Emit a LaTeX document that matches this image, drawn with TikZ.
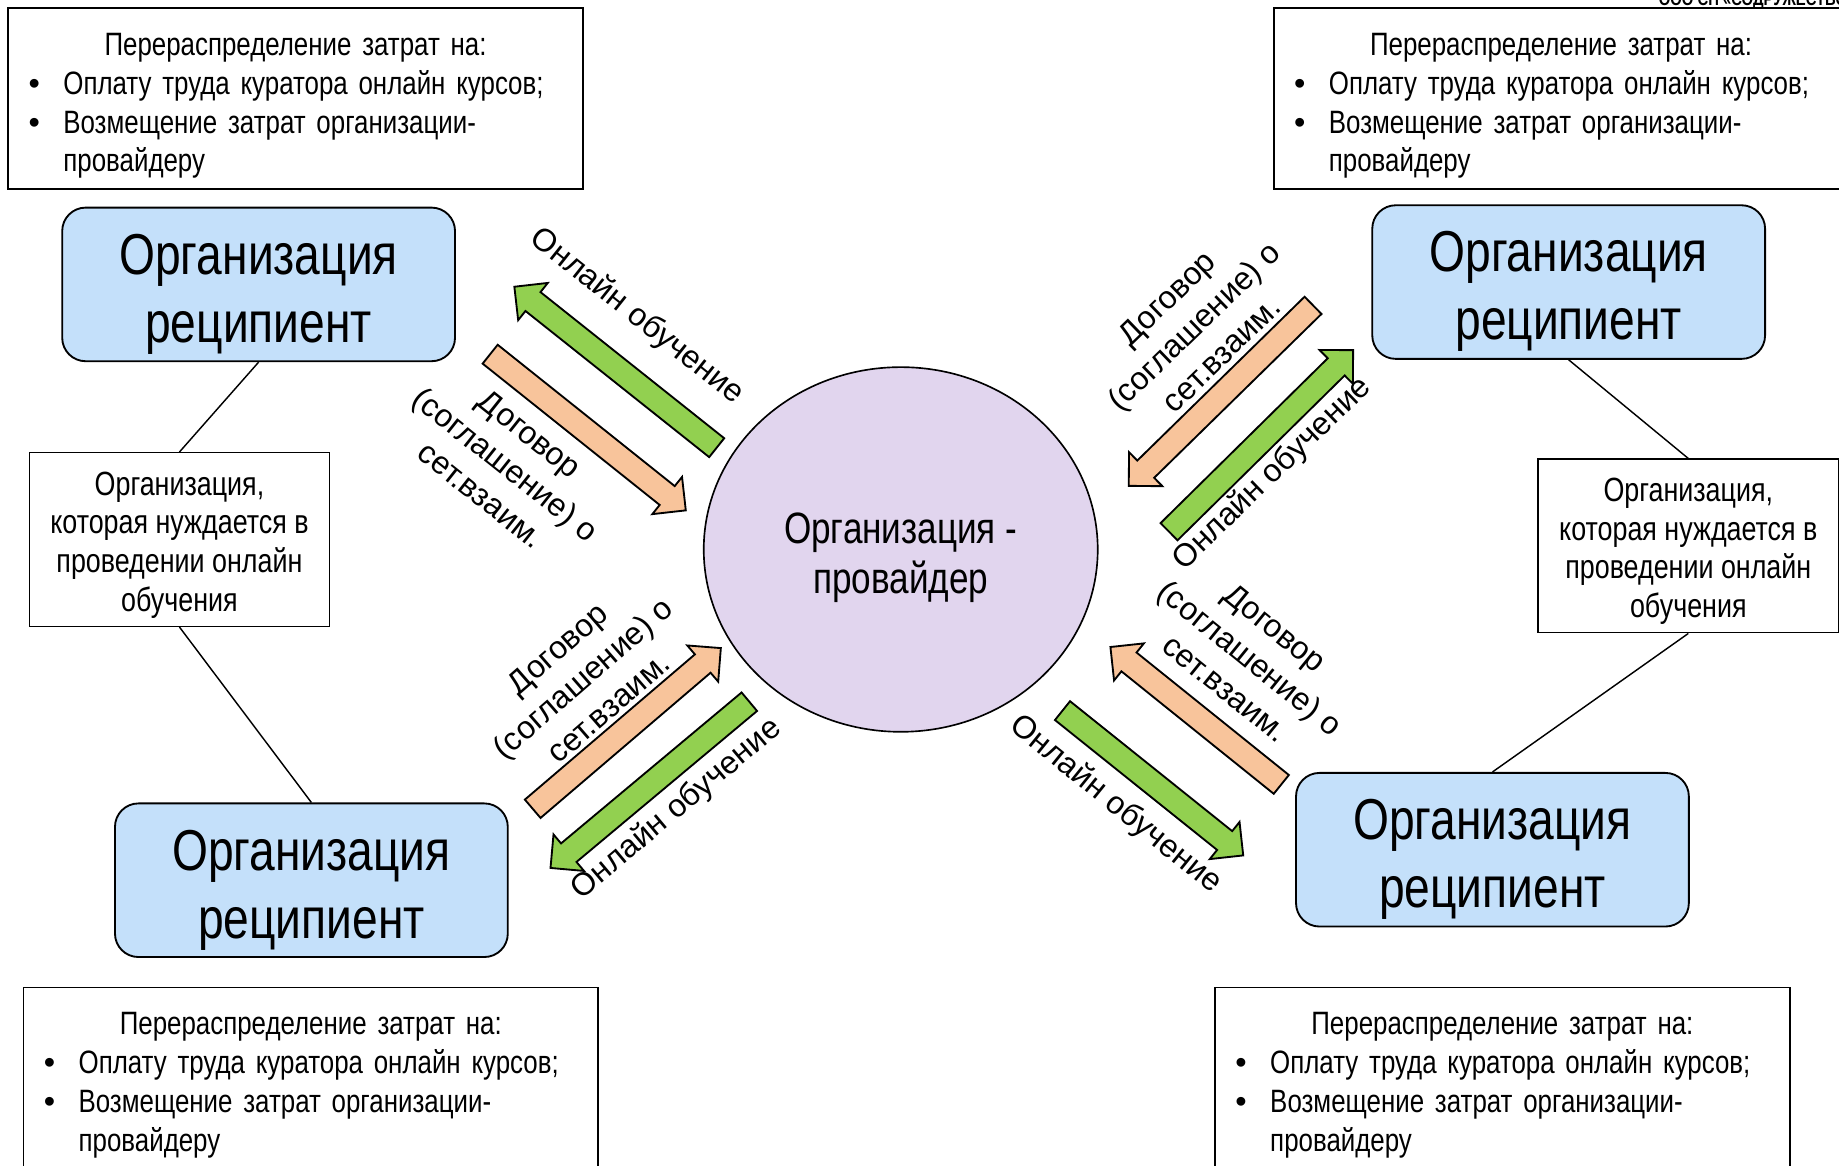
\documentclass[tikz,border=0pt]{standalone}
\usepackage{fontspec}
\setmainfont{Liberation Sans}
\newfontfamily\narrowfont{Liberation Sans}[FakeStretch=0.8]
\usepackage{tikz}
\usetikzlibrary{shapes.geometric,shapes.arrows}
\definecolor{recipblue}{RGB}{196,224,250}
\definecolor{provlav}{RGB}{225,213,238}
\definecolor{onlgreen}{RGB}{146,208,80}
\definecolor{contrpeach}{RGB}{248,196,155}

\begin{document}
\begin{tikzpicture}[x=0.02cm, y=-0.02cm,
		costbox/.style={rectangle, draw, line width=0.8pt, minimum width=9.8cm, minimum height=3.08cm, text width=9.2cm, inner xsep=0.3cm, inner ysep=0pt, font=\narrowfont\fontsize{15.7}{18.8}\selectfont},
		recip/.style={rectangle, draw, rounded corners=0.4cm, line width=0.9pt, fill=recipblue, minimum width=6.7cm, minimum height=2.62cm, align=center, font=\narrowfont\fontsize{28}{33}\selectfont},
		needbox/.style={rectangle, draw, line width=0.7pt, minimum width=5.12cm, minimum height=2.96cm, align=center, font=\narrowfont\fontsize{16.3}{18.8}\selectfont},
		provider/.style={ellipse, draw, line width=0.8pt, fill=provlav, minimum width=6.72cm, minimum height=6.22cm, inner sep=0pt, align=center, font=\narrowfont\fontsize{21.3}{24.5}\selectfont},
		blockarrow/.style={single arrow, draw, line width=0.9pt, inner xsep=0pt, inner ysep=0.19cm, single arrow head extend=0.2cm, anchor=tail},
		online/.style={blockarrow, fill=onlgreen},
		contract/.style={blockarrow, fill=contrpeach},
		link/.style={line width=0.7pt},
		lbl/.style={align=center, inner sep=0pt, font=\fontsize{15.5}{19}\selectfont}
	]
		\useasboundingbox (0,0) rectangle (1568,994);
		\node[anchor=base west, inner sep=0pt, font=\narrowfont\bfseries\fontsize{9}{10}\selectfont] (firm) at (1414,5) {ООО СП «СОДРУЖЕСТВО»};
		
		% Cost boxes
		\node[costbox] (costtl) at (252,84) {\centering\rule{0pt}{18pt}Перераспределение затрат на:\par
			\raggedright\leftskip=0.64cm
			\noindent\llap{{\rmfamily\textbullet}\hspace{0.4cm}}Оплату труда куратора онлайн курсов;\par
			\noindent\llap{{\rmfamily\textbullet}\hspace{0.4cm}}Возмещение затрат организации-\newline провайдеру\par};
		\node[costbox] (costtr) at (1331,84) {\centering\rule{0pt}{18pt}Перераспределение затрат на:\par
			\raggedright\leftskip=0.64cm
			\noindent\llap{{\rmfamily\textbullet}\hspace{0.4cm}}Оплату труда куратора онлайн курсов;\par
			\noindent\llap{{\rmfamily\textbullet}\hspace{0.4cm}}Возмещение затрат организации-\newline провайдеру\par};
		\node[costbox] (costbl) at (265,919) {\centering\rule{0pt}{18pt}Перераспределение затрат на:\par
			\raggedright\leftskip=0.64cm
			\noindent\llap{{\rmfamily\textbullet}\hspace{0.4cm}}Оплату труда куратора онлайн курсов;\par
			\noindent\llap{{\rmfamily\textbullet}\hspace{0.4cm}}Возмещение затрат организации-\newline провайдеру\par};
		\node[costbox] (costbr) at (1281,919) {\centering\rule{0pt}{18pt}Перераспределение затрат на:\par
			\raggedright\leftskip=0.64cm
			\noindent\llap{{\rmfamily\textbullet}\hspace{0.4cm}}Оплату труда куратора онлайн курсов;\par
			\noindent\llap{{\rmfamily\textbullet}\hspace{0.4cm}}Возмещение затрат организации-\newline провайдеру\par};
		
		% Recipients
		\node[recip] (reciptl) at (220.5,242.5) {\rule{0pt}{29pt}Организация\\реципиент};
		\node[recip] (reciptr) at (1337.5,240.5) {\rule{0pt}{29pt}Организация\\реципиент};
		\node[recip] (recipbl) at (265.5,750.5) {\rule{0pt}{29pt}Организация\\реципиент};
		\node[recip] (recipbr) at (1272.5,724.5) {\rule{0pt}{29pt}Организация\\реципиент};
		
		% Organisations in need
		\node[needbox] (needl) at (153,460) {\rule{0pt}{16.6pt}Организация,\\которая нуждается в\\проведении онлайн\\обучения};
		\node[needbox] (needr) at (1439.5,465.5) {\rule{0pt}{16.6pt}Организация,\\которая нуждается в\\проведении онлайн\\обучения};
		
		% Provider
		\node[provider] (prov) at (768,468.5) {\rule{0pt}{23pt}Организация -\\провайдер};
		
		% Links
		\draw[link] (reciptl.south) -- (needl.north);
		\draw[link] (needl.south) -- (recipbl.north);
		\draw[link] (reciptr.south) -- (needr.north);
		\draw[link] (needr.south) -- (recipbr.north);
		
		% Block arrows
		\node[online, rotate=141.5, minimum height=4.41cm] (onltl) at (611.7,382.2) {};
		\node[contract, rotate=-38.6, minimum height=4.27cm] (contl) at (417.3,301.5) {};
		\node[contract, rotate=224.4, minimum height=4.40cm] (contr) at (1120.1,259.8) {};
		\node[online, rotate=44.6, minimum height=4.41cm] (onltr) at (996.2,453.9) {};
		\node[contract, rotate=40.5, minimum height=4.22cm] (conbl) at (453.6,690.1) {};
		\node[online, rotate=219.9, minimum height=4.42cm] (onlbl) at (639.5,597.8) {};
		\node[contract, rotate=141.2, minimum height=3.74cm] (conbr) at (1093.1,669.3) {};
		\node[online, rotate=-38.7, minimum height=3.95cm] (onlbr) at (905.3,605.4) {};
		
		% Labels
		\node[lbl, rotate=-38.5] (lblonltl) at (543,270) {Онлайн обучение};
		\node[lbl, rotate=-38.5] (lblcontl) at (431,396) {Договор\\(соглашение) о\\сет.взаим.};
		\node[lbl, rotate=44] (lblcontr) at (1018,278) {Договор\\(соглашение) о\\сет.взаим.};
		\node[lbl, rotate=44] (lblonltr) at (1085,404) {Онлайн обучение};
		\node[lbl, rotate=41] (lblconbl) at (497,578) {Договор\\(соглашение) о\\сет.взаим.};
		\node[lbl, rotate=40] (lblonlbl) at (577,690) {Онлайн обучение};
		\node[lbl, rotate=-39] (lblconbr) at (1066,561) {Договор\\(соглашение) о\\сет.взаим.};
		\node[lbl, rotate=-39] (lblonlbr) at (951,686) {Онлайн обучение};
	\end{tikzpicture}
\end{document}
